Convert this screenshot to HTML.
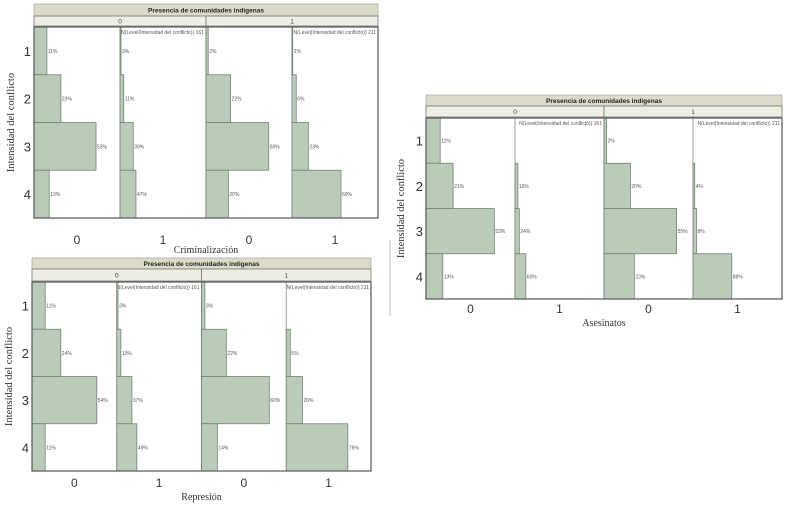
<!DOCTYPE html>
<html><head><meta charset="utf-8"><style>
body{margin:0;background:#fff;width:800px;height:511px;overflow:hidden}
svg{display:block}
</style></head><body>
<svg id="chart" width="800" height="511" viewBox="0 0 800 511" xmlns="http://www.w3.org/2000/svg" font-family="Liberation Sans, sans-serif">
<line x1="390" y1="240" x2="390" y2="316" stroke="#bbb" stroke-width="1"/>
</svg>
<script>
// Shared data
const rowLabels = ["1","2","3","4"];
const groupLabels = ["0","1"];
const colLabels = ["0","1"];
const nLabels = ["N(Level(Intensidad del conflicto)) 161","N(Level(Intensidad del conflicto)) 211"];
// Criminalización: [group][col][row] percentages
const crimValues = [[[11,23,53,13],[3,11,39,47]],[[2,22,56,20],[1,6,23,69]]];
const crimColScale = [[1.17,0.34],[1.12,0.71]];
// Asesinatos
const asesValues = [[[11,21,53,13],[0,16,24,60]],[[2,20,55,23],[0,4,8,88]]];
const asesColScale = [[1.29,0.18],[1.32,0.44]];
// Represión
const repValues = [[[11,24,54,11],[3,10,37,49]],[[3,22,60,14],[0,5,20,76]]];
const repColScale = [[1.2,0.41],[1.13,0.81]];

const svg = document.getElementById('chart');
const NS = 'http://www.w3.org/2000/svg';
function mk(tag, attrs, parent){const e=document.createElementNS(NS,tag);for(const k in attrs)e.setAttribute(k,attrs[k]);(parent||svg).appendChild(e);return e;}

function panel(cfg, values, scales){
  const g = mk('g',{});
  
  
  const L=cfg.left, R=cfg.right, M=(L+R)/2;
  const h = mk('rect',{x:L,y:cfg.hTop,width:R-L,height:cfg.hSub-cfg.hTop,fill:'#dcdbc9',stroke:'#999','stroke-width':0.6},g);
  
  
  const ht = mk('text',{x:M,y:cfg.hTop+(cfg.hSub-cfg.hTop)/2+2.5,'font-size':6.5,'font-weight':'bold','text-anchor':'middle',fill:'#222'},g);
  ht.textContent='Presencia de comunidades indigenas';
  
  
  for(let gi=0;gi<2;gi++){
    const gx=L+gi*(R-L)/2, gw=(R-L)/2;
    const sr = mk('rect',{x:gx,y:cfg.hSub,width:gw,height:cfg.top-cfg.hSub-1,fill:'#eeeee4',stroke:'#777','stroke-width':0.8},g);
    
    
    const st = mk('text',{x:gx+gw/2,y:cfg.hSub+(cfg.top-cfg.hSub)/2+2,'font-size':6.5,'text-anchor':'middle',fill:'#444'},g);
    st.textContent=groupLabels[gi];
    
    
    const nt = mk('text',{x:gx+gw-2,y:cfg.top+7,'font-size':5,'text-anchor':'end',fill:'#555'},g);
    nt.textContent=nLabels[gi];
    
    
  }
  const rh=(cfg.bottom-cfg.top)/4;
  for(let gi=0;gi<2;gi++){
    for(let ci=0;ci<2;ci++){
      const cx=L+(gi*2+ci)*(R-L)/4;
      if(ci===1||gi===1){
        const dl = mk('line',{x1:cx,y1:cfg.top,x2:cx,y2:cfg.bottom,stroke:(ci===0?'#555':'#888'),'stroke-width':(ci===0?1:0.8)},g);
        
        
      }
      for(let r=0;r<4;r++){
        const v=values[gi][ci][r];
        const w=v*scales[gi][ci];
        const y=cfg.top+r*rh;
        if(w>0){
          const b = mk('rect',{x:cx,y:y,width:w,height:rh,fill:'#bacbb9',stroke:'#748474','stroke-width':0.8},g);
          
          
        }
        if(v>0){
          const t = mk('text',{x:cx+w+1,y:y+rh/2+2,'font-size':5,fill:'#555'},g);
          t.textContent=v+'%';
          
          
        }
      }
      const xt = mk('text',{x:cx+(R-L)/8,y:cfg.tickY,'font-size':12,'text-anchor':'middle',fill:'#333'},g);
      xt.textContent=colLabels[ci];
      
      
    }
  }
  const fr = mk('rect',{x:L,y:cfg.top,width:R-L,height:cfg.bottom-cfg.top,fill:'none',stroke:'#555','stroke-width':1.2},g);
  
  
  for(let r=0;r<4;r++){
    const yt = mk('text',{x:L-3,y:cfg.top+(r+0.5)*rh+5,'font-size':13,'text-anchor':'end',fill:'#333'},g);
    yt.textContent=rowLabels[r];
    
    
  }
  const xtt = mk('text',{x:M,y:cfg.titleY,'font-size':10,'text-anchor':'middle','font-family':'Liberation Serif, serif',fill:'#333'},g);
  xtt.textContent=cfg.xtitle;
  
  
  const yy=(cfg.top+cfg.bottom)/2;
  const ytt = mk('text',{x:cfg.ytX,y:yy,'font-size':10.5,'text-anchor':'middle','font-family':'Liberation Serif, serif',fill:'#333',transform:'rotate(-90 '+cfg.ytX+' '+yy+')'},g);
  ytt.textContent='Intensidad del conflicto';
  
  
}

panel({name:'criminalizacion-panel',left:34,right:378,hTop:4,hSub:16,top:27,bottom:218,tickY:244,titleY:245+8,ytX:14,xtitle:'Criminalización'},crimValues,crimColScale);
panel({name:'asesinatos-panel',left:426,right:782,hTop:95,hSub:106,top:118,bottom:299,tickY:313,titleY:326,ytX:404,xtitle:'Asesinatos'},asesValues,asesColScale);
panel({name:'represion-panel',left:32,right:371,hTop:258,hSub:269,top:282,bottom:471,tickY:487,titleY:500,ytX:12,xtitle:'Represión'},repValues,repColScale);
</script>
</body></html>
